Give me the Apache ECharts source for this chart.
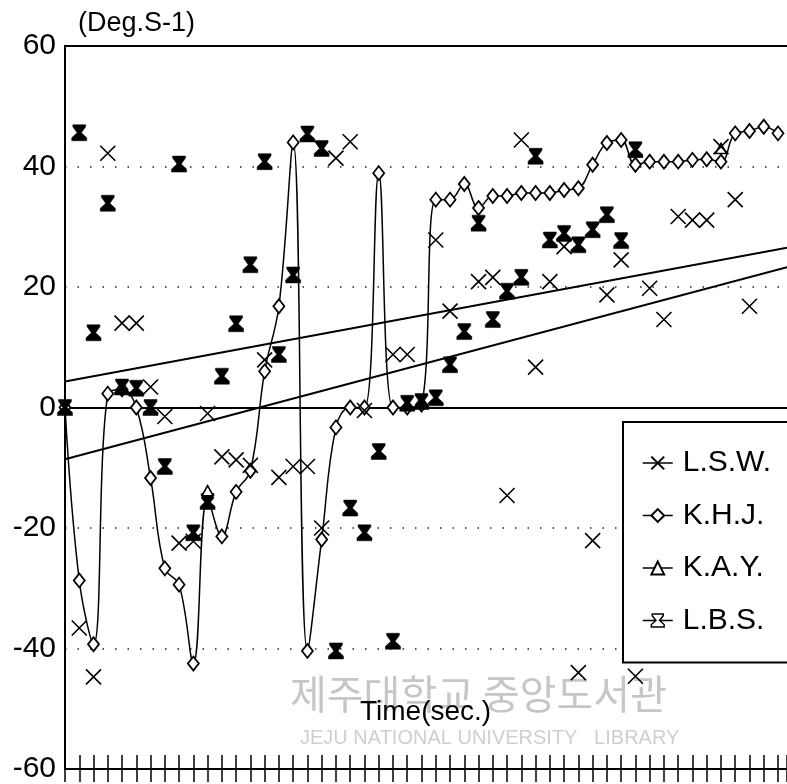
<!DOCTYPE html>
<html>
<head>
<meta charset="utf-8">
<script src="https://cdn.jsdelivr.net/npm/echarts@6/dist/echarts.min.js"></script>
<style>
  html, body { margin: 0; padding: 0; background: #fff; }
  #chart { width: 787px; height: 784px; }
</style>
</head>
<body>
<div id="chart"></div>
<script>
// time steps 0..50, values in Deg.S-1
var xMax = 50.63;

var lswIdx = [1, 2, 3, 4, 5, 6, 7, 8, 9, 10, 11, 12, 13, 14, 15, 16, 17, 18, 19, 20, 21, 23, 24, 26, 27, 29, 30, 31, 32, 33, 34, 35, 36, 37, 38, 39, 40, 41, 42, 43, 44, 45, 46, 47, 48];
var lswVal = [-36.6, -44.7, 42.2, 14.0, 14.0, 3.4, -1.5, -22.5, -22.2, -1.0, -8.2, -8.7, -9.6, 7.9, -11.6, -9.8, -9.8, -20, 41.4, 44.1, -0.5, 8.8, 8.8, 27.8, 16, 20.9, 21.6, -14.6, 44.4, 6.7, 20.9, 26.7, -44, -22.1, 18.7, 24.5, -44.6, 19.8, 14.6, 31.7, 31.1, 31.1, 43.3, 34.5, 16.8];

var khjVal = [0, -28.7, -39.3, 2.3, 3, 0, -11.7, -26.7, -29.4, -42.5,
  -15, -21.4, -14, -10.5, 6.0, 16.8, 44.0, -40.4, -21.9, -3.3,
  0, 0, 38.9, 0, 0, 0.5, 34.5, 34.5, 37.1, 33.1,
  35.1, 35.1, 35.6, 35.6, 35.6, 36.1, 36.4, 40.3, 43.9, 44.4,
  40.3, 40.8, 40.8, 40.8, 41.1, 41.2, 40.8, 45.5, 45.9, 46.6, 45.5];

var kayIdx = [10, 46];
var kayVal = [-13.8, 43.0];

var lbsVal = [0, 45.6, 12.4, 33.9, 3.4, 3.2, 0, -9.8, 40.4, -20.8,
  -15.6, 5.2, 13.9, 23.7, 40.8, 8.8, 22.0, 45.4, 43.0, -40.4,
  -16.7, -20.8, -7.3, -38.8, 0.7, 1.0, 1.6, 7.1, 12.6, 30.6,
  14.6, 19.3, 21.6, 41.7, 27.8, 28.9, 27.0, 29.5, 32.0, 27.7, 42.8];

// the two fitted straight lines, value at x = 0 and at x = xMax
var fitUpper = [4.3, 26.5];
var fitLower = [-8.6, 23.3];

var yTicks = [-60, -40, -20, 0, 20, 40, 60];

function pairs(xs, ys) {
  return ys.map(function (v, i) { return [xs ? xs[i] : i, v]; });
}

var font = "'Liberation Sans', Arial, Helvetica, sans-serif";
var crossPath = 'path://M0,0L10,10M0,10L10,0';
var hourglassPath = 'path://M1,0L13,0L13,2L9,8L14,13L14,16L0,16L0,13L5,8L1,2Z';

var chart = echarts.init(document.getElementById('chart'));

var baseX = {
  type: 'value',
  min: 0,
  max: xMax,
  interval: 1,
  axisLabel: { show: false },
  splitLine: { show: false }
};

var option = {
  animation: false,
  backgroundColor: '#fff',
  grid: { left: 65, right: 0, top: 46, bottom: 13 },
  xAxis: [
    // bottom axis, ticks pointing up
    Object.assign({}, baseX, {
      position: 'bottom',
      axisLine: { onZero: false, lineStyle: { color: '#000', width: 2 } },
      axisTick: { inside: true, length: 14, lineStyle: { color: '#000', width: 1.5 } }
    }),
    // same ticks pointing down
    Object.assign({}, baseX, {
      position: 'bottom',
      axisLine: { show: false, onZero: false },
      axisTick: { inside: false, length: 13, lineStyle: { color: '#000', width: 1.5 } }
    }),
    // zero line
    Object.assign({}, baseX, {
      position: 'bottom',
      axisLine: { onZero: true, lineStyle: { color: '#000', width: 2 } },
      axisTick: { show: false }
    }),
    // top frame
    Object.assign({}, baseX, {
      position: 'top',
      axisLine: { onZero: false, lineStyle: { color: '#000', width: 2 } },
      axisTick: { show: false }
    })
  ],
  yAxis: {
    type: 'value',
    min: yTicks[0],
    max: yTicks[yTicks.length - 1],
    interval: 20,
    axisLine: { show: true, lineStyle: { color: '#000', width: 2 } },
    axisTick: { show: false },
    axisLabel: { color: '#000', fontSize: 30, fontFamily: font, margin: 9 },
    splitLine: { show: true, lineStyle: { color: '#222', width: 1.5, type: [1.5, 11] } }
  },
  legend: {
    orient: 'vertical',
    left: 623,
    top: 422,
    padding: [26, 40, 27, 19],
    itemWidth: 30,
    itemHeight: 16,
    itemGap: 22.5,
    borderColor: '#000',
    borderWidth: 2,
    borderRadius: 0,
    backgroundColor: '#fff',
    textStyle: { color: '#000', fontSize: 30, fontFamily: font, padding: [0, 0, 0, 5] },
    lineStyle: { color: '#000', width: 1.5, opacity: 1 },
    data: [
      'L.S.W.',
      'K.H.J.',
      'K.A.Y.',
      { name: 'L.B.S.', itemStyle: { color: '#fff', borderColor: '#000', borderWidth: 1.5 } }
    ]
  },
  graphic: [
    {
      type: 'text', left: 290, top: 674, z: 0, silent: true,
      style: { text: '제주대학교 중앙도서관', fontSize: 40, fontFamily: "'Noto Sans CJK KR'", fill: '#c6c6c6' }
    },
    {
      type: 'text', left: 300, top: 728, z: 0, silent: true,
      style: { text: 'JEJU NATIONAL UNIVERSITY   LIBRARY', fontSize: 20, fontFamily: font, fill: '#cfcfcf' }
    },
    {
      type: 'text', left: 78, top: 10, z: 10,
      style: { text: '(Deg.S-1)', fontSize: 27, fontFamily: font, fill: '#000' }
    },
    {
      type: 'text', left: 360, top: 698, z: 10,
      style: { text: 'Time(sec.)', fontSize: 28, fontFamily: font, fill: '#000' }
    }
  ],
  series: [
    {
      name: 'fitUpper', type: 'line', silent: true, symbol: 'none', z: 2,
      data: pairs([0, xMax], fitUpper),
      lineStyle: { color: '#000', width: 2 }
    },
    {
      name: 'fitLower', type: 'line', silent: true, symbol: 'none', z: 2,
      data: pairs([0, xMax], fitLower),
      lineStyle: { color: '#000', width: 2 }
    },
    {
      name: 'K.H.J.', type: 'line', smooth: 0.4, z: 3,
      data: pairs(null, khjVal),
      symbol: 'diamond', symbolSize: [11, 14],
      lineStyle: { color: '#000', width: 1.5 },
      itemStyle: { color: '#fff', borderColor: '#000', borderWidth: 1.8 }
    },
    {
      name: 'L.B.S.', type: 'line', z: 4,
      data: pairs(null, lbsVal),
      symbol: hourglassPath, symbolSize: [15, 16],
      lineStyle: { width: 0, color: '#000' },
      itemStyle: { color: '#000', borderColor: '#000', borderWidth: 0.5 }
    },
    {
      name: 'K.A.Y.', type: 'line', z: 4,
      data: pairs(kayIdx, kayVal),
      symbol: 'triangle', symbolSize: [11, 10],
      lineStyle: { width: 0, color: '#000' },
      itemStyle: { color: '#fff', borderColor: '#000', borderWidth: 1.5 }
    },
    {
      name: 'L.S.W.', type: 'line', z: 5,
      data: pairs(lswIdx, lswVal),
      symbol: crossPath, symbolSize: 15,
      lineStyle: { width: 0, color: '#000' },
      itemStyle: { color: 'none', borderColor: '#000', borderWidth: 1.6 }
    }
  ]
};

chart.setOption(option);
</script>
</body>
</html>
